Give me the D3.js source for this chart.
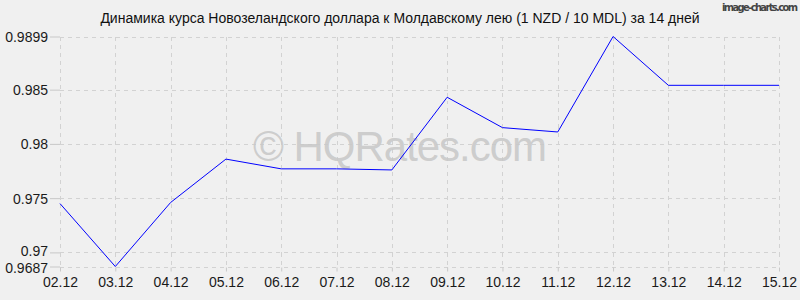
<!DOCTYPE html>
<html>
<head>
<meta charset="utf-8">
<script src="https://cdn.jsdelivr.net/npm/d3@7"></script>
<style>
  body { margin: 0; background: #f0f0f0; }
  svg { display: block; font-family: "Liberation Sans", Arial, sans-serif; }
</style>
</head>
<body>
<svg width="800" height="300"></svg>
<script>
var dates = ["02.12", "03.12", "04.12", "05.12", "06.12", "07.12", "08.12",
             "09.12", "10.12", "11.12", "12.12", "13.12", "14.12", "15.12"];
var rates = [0.9745, 0.9687, 0.9746, 0.9786, 0.9777, 0.9777, 0.9776,
             0.9843, 0.9815, 0.9811, 0.9899, 0.9854, 0.9854, 0.9854];
var yTicks = [0.9687, 0.97, 0.975, 0.98, 0.985, 0.9899];

var svg = d3.select("svg");
svg.append("rect").attr("width", 800).attr("height", 300).attr("fill", "#f0f0f0");

var x = d3.scalePoint().domain(dates).range([60, 779]);
var y = d3.scaleLinear().domain([0.9687, 0.9899]).range([266.5, 36.5]);

// grid
var grid = svg.append("g")
    .attr("stroke", "#d2d2d2")
    .attr("stroke-dasharray", "4,4")
    .attr("shape-rendering", "crispEdges");
grid.selectAll(".vg")
    .data(dates)
    .enter().append("line")
    .attr("x1", function(d) { return Math.round(x(d)) + 0.5; })
    .attr("x2", function(d) { return Math.round(x(d)) + 0.5; })
    .attr("y1", y(0.9899))
    .attr("y2", y(0.9687));
grid.selectAll(".hg")
    .data(yTicks)
    .enter().append("line")
    .attr("x1", 60)
    .attr("x2", 779)
    .attr("y1", function(d) { return Math.round(y(d)) + 0.5; })
    .attr("y2", function(d) { return Math.round(y(d)) + 0.5; });

// axes
var xaxis = svg.append("g")
    .attr("transform", "translate(0," + (Math.round(y(0.9687)) + 0.5) + ")")
    .call(d3.axisBottom(x).tickSize(4).tickPadding(4));
var yaxis = svg.append("g")
    .attr("transform", "translate(60,0)")
    .call(d3.axisLeft(y).tickValues(yTicks).tickSize(10).tickPadding(2)
        .tickFormat(function(d) { return String(d); }));

xaxis.select(".domain").remove();
yaxis.select(".domain").remove();
svg.selectAll(".tick line").attr("stroke", "#c8c8c8");
svg.selectAll(".tick text")
    .attr("fill", "#1a1a1a")
    .style("font-size", "14px")
    .style("font-family", "'Liberation Sans', Arial, sans-serif");
xaxis.selectAll(".tick text").attr("dy", "0.8em");
yaxis.selectAll(".tick text").attr("dy", "0.35em");
// the two bottom labels sit close together, nudge them apart a bit
yaxis.selectAll(".tick text")
    .filter(function(d) { return d === 0.9687; })
    .attr("dy", "0.45em");
yaxis.selectAll(".tick text")
    .filter(function(d) { return d === 0.97; })
    .attr("dy", "0.25em");

// watermark
svg.append("text")
    .attr("x", 400)
    .attr("y", 161)
    .attr("text-anchor", "middle")
    .attr("fill", "#c8c8c8")
    .attr("fill-opacity", 0.9)
    .style("font-size", "42px")
    .attr("textLength", 294)
    .text("© HQRates.com");

// line
var line = d3.line()
    .x(function(d, i) { return x(dates[i]); })
    .y(function(d) { return y(d); });
svg.append("path")
    .datum(rates)
    .attr("fill", "none")
    .attr("stroke", "#0000ff")
    .attr("stroke-width", 1)
    .attr("d", line);

// title
svg.append("text")
    .attr("x", 400)
    .attr("y", 23)
    .attr("text-anchor", "middle")
    .attr("fill", "#111")
    .style("font-size", "14px")
    .text("Динамика курса Новозеландского доллара к Молдавскому лею (1 NZD / 10 MDL) за 14 дней");

svg.append("text")
    .attr("x", 722)
    .attr("y", 11)
    .attr("fill", "#444")
    .attr("textLength", 76)
    .style("font-size", "11px")
    .style("font-family", "'DejaVu Sans Condensed', 'DejaVu Sans', sans-serif")
    .style("font-weight", "bold")
    .text("image-charts.com");
</script>
</body>
</html>
